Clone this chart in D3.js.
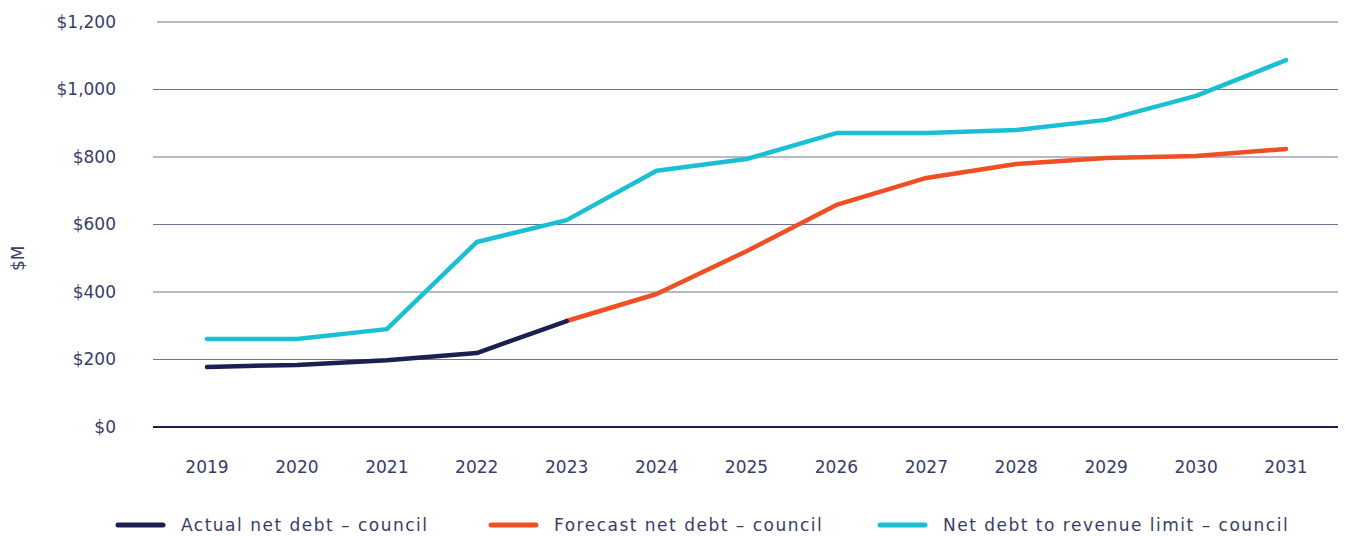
<!DOCTYPE html>
<html>
<head>
<meta charset="utf-8">
<script src="https://cdn.jsdelivr.net/npm/d3@7"></script>
<style>
  body { margin: 0; background: #fff; }
  svg text { font-family: "DejaVu Sans", sans-serif; fill: #3a3c68; }
</style>
</head>
<body>
<script>
const years = [2019, 2020, 2021, 2022, 2023, 2024, 2025, 2026, 2027, 2028, 2029, 2030, 2031]
const actualYears = [2019, 2020, 2021, 2022, 2023]
const actualDebt = [178, 184, 198, 219, 314]
const forecastYears = [2023, 2024, 2025, 2026, 2027, 2028, 2029, 2030, 2031]
const forecastDebt = [314, 394, 521, 658, 738, 779, 797, 803, 824]
const limitDebt = [261, 261, 290, 548, 613, 759, 794, 871, 871, 880, 910, 981, 1087]
const yTicks = [0, 200, 400, 600, 800, 1000, 1200]
const legendLabels = ['Actual net debt \u2013 council', 'Forecast net debt \u2013 council', 'Net debt to revenue limit \u2013 council']
const colors = ['#1d1f50', '#f04e23', '#1bbfd3']

let width = 1345
let height = 536
let margin = { top: 22, right: 7, bottom: 109, left: 153 }

const svg = d3.select('body')
  .append('svg')
  .attr('width', width)
  .attr('height', height)

const x = d3.scalePoint()
  .domain(years)
  .range([207, 1286])

const y = d3.scaleLinear()
  .domain([0, 1200])
  .range([height - margin.bottom, margin.top])

// gridlines
svg.append('g')
  .selectAll('line')
  .data(yTicks.filter(d => d > 0))
  .enter()
  .append('line')
  .attr('x1', d => d == 1200 ? 157 : margin.left)
  .attr('x2', width - margin.right)
  .attr('y1', d => y(d))
  .attr('y2', d => y(d))
  .attr('stroke', '#6f7293')
  .attr('stroke-width', 1)

// zero line
svg.append('line')
  .attr('x1', margin.left)
  .attr('x2', width - margin.right)
  .attr('y1', y(0))
  .attr('y2', y(0))
  .attr('stroke', '#1d1f50')
  .attr('stroke-width', 2)

// y labels
svg.append('g')
  .selectAll('text')
  .data(yTicks)
  .enter()
  .append('text')
  .attr('x', 116)
  .attr('y', d => y(d))
  .attr('dy', '0.35em')
  .attr('text-anchor', 'end')
  .style('font-size', '17px')
  .text(d => '$' + d3.format(',')(d))

svg.append('text')
  .attr('transform', `translate(24,${y(500)}) rotate(-90)`)
  .attr('text-anchor', 'middle')
  .style('font-size', '17px')
  .text('$M')

// x labels
svg.append('g')
  .selectAll('text')
  .data(years)
  .enter()
  .append('text')
  .attr('x', d => x(d))
  .attr('y', 467)
  .attr('dy', '0.35em')
  .attr('text-anchor', 'middle')
  .style('font-size', '17px')
  .text(d => d)

const line = d3.line()
  .x(d => x(d[0]))
  .y(d => y(d[1]))

const series = [
  d3.zip(years, limitDebt),
  d3.zip(forecastYears, forecastDebt),
  d3.zip(actualYears, actualDebt)
]
const seriesColors = [colors[2], colors[1], colors[0]]

svg.append('g')
  .selectAll('path')
  .data(series)
  .enter()
  .append('path')
  .attr('d', line)
  .attr('fill', 'none')
  .attr('stroke', (d, i) => seriesColors[i])
  .attr('stroke-width', 4.5)
  .attr('stroke-linecap', 'round')
  .attr('stroke-linejoin', 'round')

// legend
const legendX = [118, 491, 880]
const legend = svg.append('g')
  .selectAll('g')
  .data(legendLabels)
  .enter()
  .append('g')
  .attr('transform', (d, i) => `translate(${legendX[i]},525)`)

legend.append('line')
  .attr('x1', 0)
  .attr('x2', 45)
  .attr('stroke', (d, i) => colors[i])
  .attr('stroke-width', 5)
  .attr('stroke-linecap', 'round')

legend.append('text')
  .attr('x', 63)
  .attr('dy', '0.35em')
  .style('font-size', '17px')
  .style('letter-spacing', '1.5px')
  .text(d => d)
</script>
</body>
</html>
